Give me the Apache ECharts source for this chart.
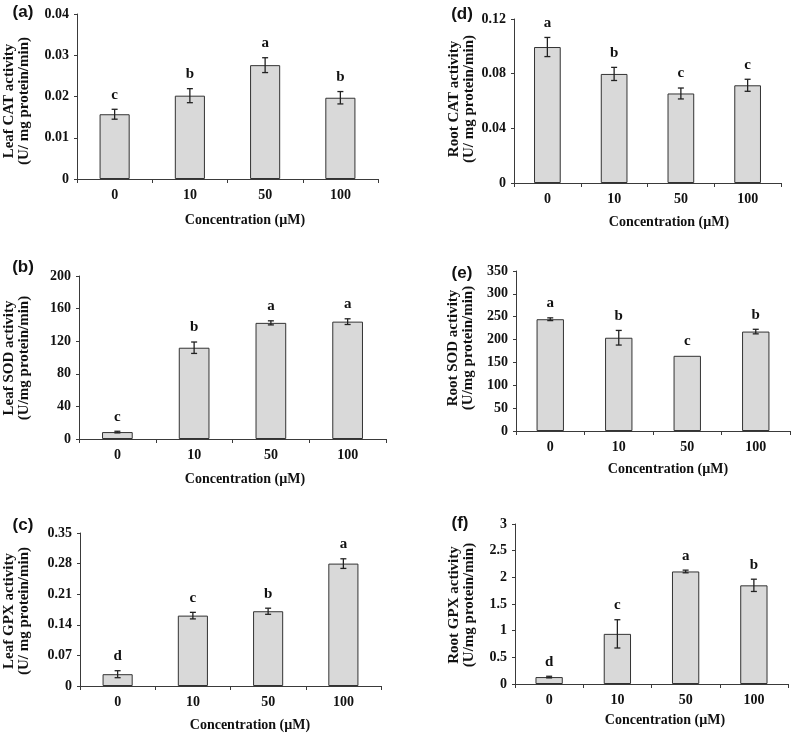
<!DOCTYPE html>
<html>
<head>
<meta charset="utf-8">
<script src="https://cdn.jsdelivr.net/npm/echarts@6/dist/echarts.min.js"></script>
<style>
html,body{margin:0;padding:0;background:#fff;}
#chart{width:793px;height:733px;}
</style>
</head>
<body>
<div id="chart"></div>
<script>
const categories = ['0', '10', '50', '100'];

const leafCAT = [0.0157, 0.0202, 0.0276, 0.0197];
const leafCATErr = [0.0012, 0.0017, 0.0018, 0.0015];
const leafCATLetters = ['c', 'b', 'a', 'b'];

const rootCAT = [0.0995, 0.0798, 0.0655, 0.0715];
const rootCATErr = [0.007, 0.0048, 0.004, 0.0044];
const rootCATLetters = ['a', 'b', 'c', 'c'];

const leafSOD = [8.5, 112, 142.5, 144];
const leafSODErr = [1, 7, 2.5, 3.5];
const leafSODLetters = ['c', 'b', 'a', 'a'];

const rootSOD = [244.5, 204, 164.5, 217.5];
const rootSODErr = [3, 16, 0, 5];
const rootSODLetters = ['a', 'b', 'c', 'b'];

const leafGPX = [0.027, 0.161, 0.171, 0.28];
const leafGPXErr = [0.008, 0.0075, 0.007, 0.011];
const leafGPXLetters = ['d', 'c', 'b', 'a'];

const rootGPX = [0.13, 0.94, 2.11, 1.85];
const rootGPXErr = [0.015, 0.265, 0.025, 0.115];
const rootGPXLetters = ['d', 'c', 'a', 'b'];

const xTitle = 'Concentration (\u00b5M)';

const panels = [
  {tag: '(a)', vals: leafCAT, errs: leafCATErr, letters: leafCATLetters, max: 0.04, interval: 0.01,
   ytitle: 'Leaf CAT activity\n(U/ mg protein/min)',
   grid: {left: 77, top: 14, width: 301, height: 165}, tagPos: [23, 12], yPos: [17, 101], xPos: [245, 220]},
  {tag: '(d)', vals: rootCAT, errs: rootCATErr, letters: rootCATLetters, max: 0.12, interval: 0.04,
   ytitle: 'Root CAT activity\n(U/ mg protein/min)',
   grid: {left: 514, top: 19, width: 267, height: 164}, tagPos: [462, 14], yPos: [462, 99], xPos: [669, 222]},
  {tag: '(b)', vals: leafSOD, errs: leafSODErr, letters: leafSODLetters, max: 200, interval: 40,
   ytitle: 'Leaf SOD activity\n(U/mg protein/min)',
   grid: {left: 79, top: 276, width: 307, height: 163}, tagPos: [23, 267], yPos: [17, 358], xPos: [245, 479]},
  {tag: '(e)', vals: rootSOD, errs: rootSODErr, letters: rootSODLetters, max: 350, interval: 50,
   ytitle: 'Root SOD activity\n(U/mg protein/min)',
   grid: {left: 516, top: 271, width: 274, height: 160}, tagPos: [462, 273], yPos: [461, 348], xPos: [668, 469]},
  {tag: '(c)', vals: leafGPX, errs: leafGPXErr, letters: leafGPXLetters, max: 0.35, interval: 0.07,
   ytitle: 'Leaf GPX activity\n(U/ mg protein/min)',
   grid: {left: 80, top: 533, width: 301, height: 153}, tagPos: [23, 525], yPos: [17, 611], xPos: [250, 725]},
  {tag: '(f)', vals: rootGPX, errs: rootGPXErr, letters: rootGPXLetters, max: 3, interval: 0.5,
   ytitle: 'Root GPX activity\n(U/mg protein/min)',
   grid: {left: 515, top: 524, width: 273, height: 160}, tagPos: [460, 523], yPos: [462, 605], xPos: [665, 720]}
];

const serif = '"Liberation Serif", "Times New Roman", serif';
const axisColor = '#3a3a3a';

function makeRender(letters) {
  return function (params, api) {
    const i = api.value(0), v = api.value(1), e = api.value(2);
    const top = api.coord([i, v + e]);
    const bot = api.coord([i, v - e]);
    const cap = 3;
    const children = [];
    if (e > 0) {
      const ls = {stroke: '#222', lineWidth: 1.3};
      children.push({type: 'line', shape: {x1: top[0], y1: top[1], x2: bot[0], y2: bot[1]}, style: ls});
      children.push({type: 'line', shape: {x1: top[0] - cap, y1: top[1], x2: top[0] + cap, y2: top[1]}, style: ls});
      children.push({type: 'line', shape: {x1: bot[0] - cap, y1: bot[1], x2: bot[0] + cap, y2: bot[1]}, style: ls});
    }
    children.push({type: 'text', style: {text: letters[params.dataIndex], x: top[0], y: top[1] - 7,
      textAlign: 'center', textVerticalAlign: 'bottom', font: 'bold 15px ' + serif, fill: '#111'}});
    return {type: 'group', children: children};
  };
}

const grids = [], xAxes = [], yAxes = [], series = [], graphics = [];
panels.forEach(function (p, k) {
  grids.push(Object.assign({containLabel: false}, p.grid));
  xAxes.push({
    type: 'category', gridIndex: k, data: categories,
    axisLine: {lineStyle: {color: axisColor, width: 1}},
    axisTick: {show: true, length: 4, lineStyle: {color: axisColor}},
    axisLabel: {fontFamily: serif, fontWeight: 'bold', fontSize: 14, color: '#111', margin: 9}
  });
  yAxes.push({
    type: 'value', gridIndex: k, min: 0, max: p.max, interval: p.interval,
    splitLine: {show: false},
    axisLine: {show: true, lineStyle: {color: axisColor, width: 1}},
    axisTick: {show: true, length: 3, lineStyle: {color: axisColor}},
    axisLabel: {fontFamily: serif, fontWeight: 'bold', fontSize: 14, color: '#111', margin: 8,
      formatter: function (v) { return String(+v.toPrecision(6)); }}
  });
  series.push({
    type: 'bar', xAxisIndex: k, yAxisIndex: k, data: p.vals, barWidth: '40%',
    itemStyle: {color: '#d9d9d9', borderColor: '#333', borderWidth: 1}, silent: true
  });
  series.push({
    type: 'custom', xAxisIndex: k, yAxisIndex: k,
    data: p.vals.map(function (v, i) { return [i, v, p.errs[i]]; }),
    renderItem: makeRender(p.letters), silent: true, z: 5
  });
  graphics.push({type: 'text', x: p.tagPos[0], y: p.tagPos[1],
    style: {text: p.tag, font: 'bold 17px "Liberation Sans", Arial, sans-serif', fill: '#111',
      textAlign: 'center', textVerticalAlign: 'middle'}});
  graphics.push({type: 'text', x: p.yPos[0], y: p.yPos[1], rotation: Math.PI / 2,
    style: {text: p.ytitle, font: 'bold 15px ' + serif, fill: '#111', lineHeight: 15,
      textAlign: 'center', textVerticalAlign: 'middle'}});
  graphics.push({type: 'text', x: p.xPos[0], y: p.xPos[1],
    style: {text: xTitle, font: 'bold 14px ' + serif, fill: '#111',
      textAlign: 'center', textVerticalAlign: 'middle'}});
});

const chart = echarts.init(document.getElementById('chart'), null, {renderer: 'canvas'});
chart.setOption({
  backgroundColor: '#fff',
  animation: false,
  grid: grids, xAxis: xAxes, yAxis: yAxes, series: series, graphic: graphics
});
</script>
</body>
</html>
